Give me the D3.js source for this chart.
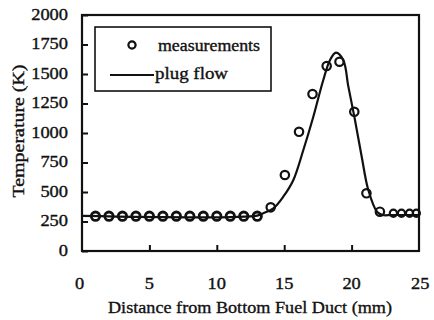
<!DOCTYPE html>
<html><head><meta charset="utf-8">
<script src="https://cdn.jsdelivr.net/npm/d3@7/dist/d3.min.js"></script>
<style>body{margin:0;background:#fff}svg{display:block}text{font-family:"Liberation Serif","Times New Roman",serif;fill:#111;stroke:#111;stroke-width:0.35px}</style>
</head><body><svg id="c" width="434" height="320"></svg>
<script>
const measX = [1,2,3,4,5,6,7,8,9,10,11,12,13,14,15.05,16.1,17.1,18.15,19.1,20.2,21.1,22.1,23.1,23.7,24.3,24.8];
const measY = [295,295,295,295,295,295,295,295,295,295,295,295,295,370,644,1010,1330,1568,1604,1180,489,333,320,320,320,320];
const flowX = [0,13,13.45,14.2,14.93,15.68,16.42,17.16,17.9,18.4,18.84,19.38,19.76,20.25,20.75,21.24,21.9,22.3,23,25];
const flowY = [297,300,320,362,460,602,856,1138,1449,1619,1681,1619,1393,1110,799,517,330,305,305,305];
const xTicks = [0,5,10,15,20,25];
const yTicks = [0,250,500,750,1000,1250,1500,1750,2000];

const svg = d3.select("#c");
const L=82,R=419,T=15,B=251;
const x = d3.scaleLinear().domain([0,25]).range([L,R]);
const y = d3.scaleLinear().domain([0,2000]).range([B,T]);

// frame
svg.append("rect").attr("x",L).attr("y",T).attr("width",R-L).attr("height",B-T)
  .attr("fill","none").attr("stroke","#111").attr("stroke-width",2.2);

// y axis ticks (inward) and labels
const ya = svg.append("g").attr("transform",`translate(${L},0)`)
  .call(d3.axisRight(y).tickValues(yTicks).tickSize(6).tickFormat(""));
ya.select(".domain").remove();
ya.selectAll("line").attr("stroke","#111").attr("stroke-width",2);
svg.append("g").selectAll("text").data(yTicks).join("text")
  .attr("x",68).attr("y",d=>y(d)+5).attr("text-anchor","end")
  .attr("font-size",16).attr("transform",`translate(68,0) scale(1.15,1) translate(-68,0)`)
  .text(d=>d);

// x axis ticks (inward) and labels
const xa = svg.append("g").attr("transform",`translate(0,${B})`)
  .call(d3.axisTop(x).tickValues(xTicks.slice(1,-1)).tickSize(6).tickFormat(""));
xa.select(".domain").remove();
xa.selectAll("line").attr("stroke","#111").attr("stroke-width",2);
svg.append("g").selectAll("text").data(xTicks).join("text")
  .attr("x",d=>x(d)-(d===0?2:(d===25?-1:0))).attr("y",289).attr("text-anchor","middle")
  .attr("font-size",16).text(d=>d)
  .attr("transform",function(d){const cx=x(d);return `translate(${cx},0) scale(1.15,1) translate(${-cx},0)`;});

// axis titles
svg.append("text").attr("x",250).attr("y",313).attr("text-anchor","middle")
  .attr("font-size",17).attr("textLength",284).attr("lengthAdjust","spacingAndGlyphs")
  .text("Distance from Bottom Fuel Duct (mm)");
svg.append("text").attr("transform","translate(24,131) rotate(-90)").attr("text-anchor","middle")
  .attr("font-size",17).attr("textLength",133).attr("lengthAdjust","spacingAndGlyphs")
  .text("Temperature (K)");

// plug flow line
const line = d3.line().x((d,i)=>x(flowX[i])).y(d=>y(d)).curve(d3.curveCatmullRom.alpha(0.5));
svg.append("path").datum(flowY).attr("d",line).attr("fill","none")
  .attr("stroke","#111").attr("stroke-width",2.2);

// measurements
svg.append("g").selectAll("circle").data(measY).join("circle")
  .attr("cx",(d,i)=>x(measX[i])).attr("cy",d=>y(d))
  .attr("r",(d,i)=>measX[i]>22.5?3.6:4.2)
  .attr("fill","none").attr("stroke","#111").attr("stroke-width",(d,i)=>measX[i]<13.5?2.8:2.2);

// legend
svg.append("rect").attr("x",95).attr("y",27).attr("width",176).attr("height",64)
  .attr("fill","#fff").attr("stroke","#111").attr("stroke-width",1.6);
svg.append("circle").attr("cx",132).attr("cy",45).attr("r",3.6)
  .attr("fill","none").attr("stroke","#111").attr("stroke-width",2.2);
svg.append("text").attr("x",158).attr("y",51).attr("font-size",16)
  .attr("textLength",102).attr("lengthAdjust","spacingAndGlyphs").text("measurements");
svg.append("line").attr("x1",110).attr("x2",154).attr("y1",75).attr("y2",75)
  .attr("stroke","#111").attr("stroke-width",2.2);
svg.append("text").attr("x",155).attr("y",79).attr("font-size",16)
  .attr("textLength",73).attr("lengthAdjust","spacingAndGlyphs").text("plug flow");
</script></body></html>
